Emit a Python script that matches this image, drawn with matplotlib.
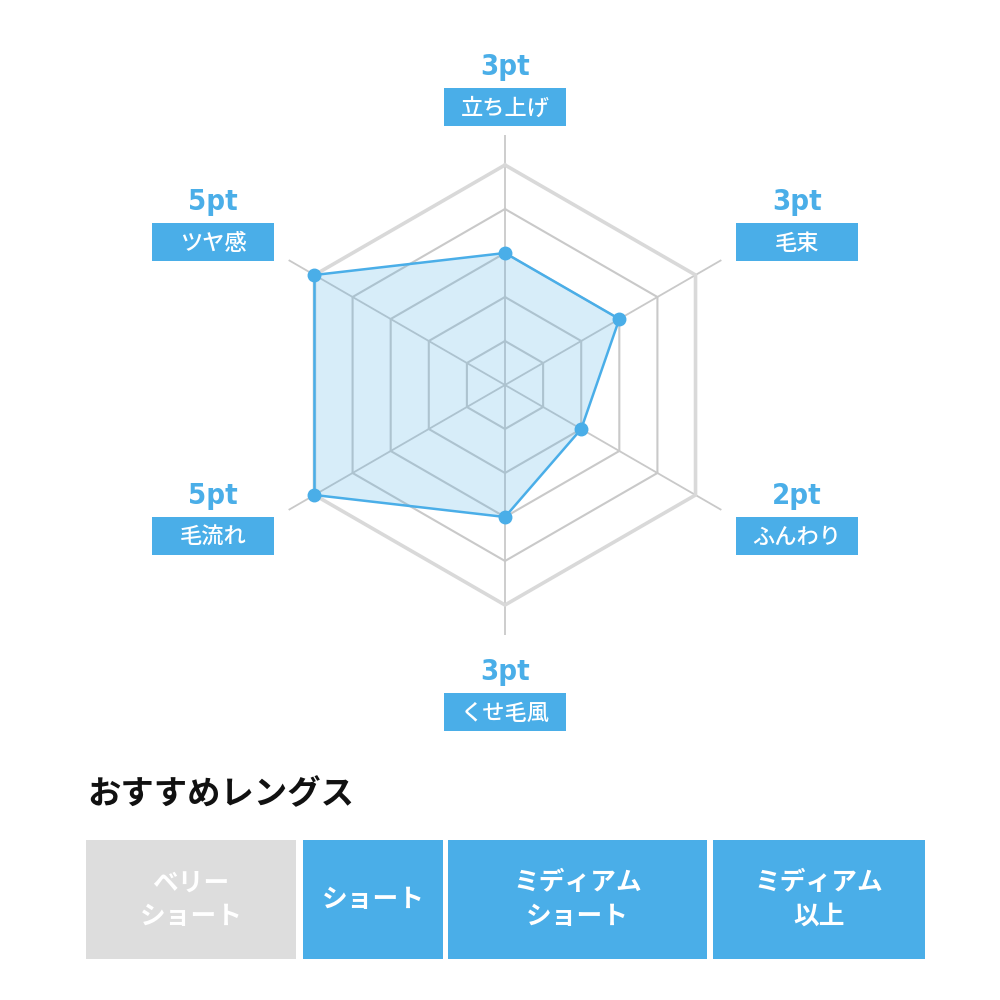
import numpy as np
import matplotlib
matplotlib.use("Agg")
import matplotlib.pyplot as plt
from matplotlib.patches import Rectangle

plt.rcParams['font.family'] = ['Noto Sans CJK JP', 'DejaVu Sans']

# ---- data ----
categories = ['立ち上げ', '毛束', 'ふんわり', 'くせ毛風', '毛流れ', 'ツヤ感']
values = [3, 3, 2, 3, 5, 5]
max_level = 5
lengths = ['ベリー\nショート', 'ショート', 'ミディアム\nショート', 'ミディアム\n以上']
recommended = [False, True, True, True]
title = 'おすすめレングス'

BLUE = '#4aaee8'
GRID = '#c9c9c9'
OUTER = '#d9d9d9'

fig = plt.figure(figsize=(10, 10), dpi=100)
fig.patch.set_facecolor('white')

# ---- radar (polar axes) ----
cx, cy, R = 505, 385, 250  # pixel center and spoke length
rmax = max_level * 250 / 220
ax = fig.add_axes([(cx - R) / 1000, 1 - (cy + R) / 1000, 2 * R / 1000, 2 * R / 1000],
                  projection='polar')
ax.set_theta_zero_location('N')
ax.set_theta_direction(-1)
ax.set_ylim(0, rmax)
ax.axis('off')

n = len(categories)
theta = np.arange(n) * 2 * np.pi / n
theta_c = np.append(theta, theta[0])

for t in theta:
    ax.plot([t, t], [0, rmax], color=GRID, lw=1.3, zorder=1, solid_capstyle='butt')
for lvl in range(1, max_level + 1):
    if lvl == max_level:
        ax.plot(theta_c, [lvl] * (n + 1), color=OUTER, lw=2.6, zorder=1)
    else:
        ax.plot(theta_c, [lvl] * (n + 1), color=GRID, lw=1.5, zorder=1)

vals_c = values + values[:1]
ax.fill(theta_c, vals_c, color=BLUE, alpha=0.22, zorder=2, lw=0)
ax.plot(theta_c, vals_c, color=BLUE, lw=1.8, zorder=3)
ax.plot(theta, values, 'o', color=BLUE, ms=9, zorder=4)

# ---- overlay axes in pixel coordinates for labels ----
ov = fig.add_axes([0, 0, 1, 1])
ov.set_xlim(0, 1000)
ov.set_ylim(1000, 0)
ov.axis('off')

label_pos = [(505, 107), (797, 242), (797, 536), (505, 712), (213, 536), (213, 242)]
bw, bh = 122, 38
for cat, v, (lx, ly) in zip(categories, values, label_pos):
    ov.add_patch(Rectangle((lx - bw / 2, ly - bh / 2), bw, bh, color=BLUE, lw=0))
    ov.text(lx, ly + 1, cat, ha='center', va='center', color='white', fontsize=16,
            fontweight='medium')
    ov.text(lx, ly - 40, f'{v}pt', ha='center', va='center', color=BLUE,
            fontsize=21, fontweight='bold', fontstretch='condensed',
            family='DejaVu Sans')

# title
ov.text(87, 795, title, ha='left', va='center', color='#111111', fontsize=24,
        fontweight='bold')

# length boxes
box_x = [(86, 296), (303, 443), (448, 707), (713, 925)]
y0, y1 = 840, 959
for lab, rec, (x0, x1) in zip(lengths, recommended, box_x):
    ov.add_patch(Rectangle((x0, y0), x1 - x0, y1 - y0,
                           color=BLUE if rec else '#dddddd', lw=0))
    ov.text((x0 + x1) / 2, (y0 + y1) / 2, lab, ha='center', va='center',
            color='white', fontsize=18.5, fontweight='bold', linespacing=1.3)

fig.savefig('out.png', dpi=100, facecolor='white')
